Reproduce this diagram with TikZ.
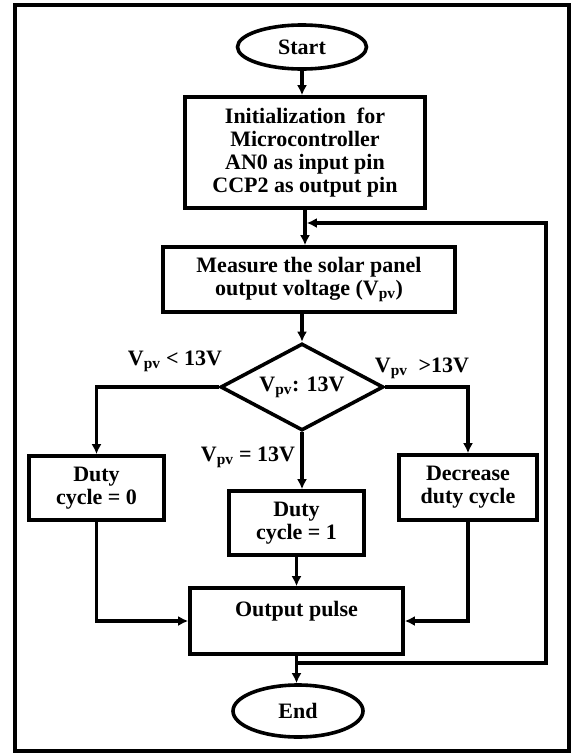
\documentclass[tikz,border=0pt]{standalone}
\usepackage{fontspec}
\setmainfont{Liberation Serif}
\usetikzlibrary{arrows.meta,shapes.geometric}

\begin{document}
\begin{tikzpicture}[x=1pt,y=-1pt,>={Latex[length=10pt,width=10pt]},
    every node/.style={font=\fontsize{22}{23}\selectfont\bfseries,align=center},
    box/.style={draw,rectangle,line width=3.6pt,inner sep=2pt},
    term/.style={draw,ellipse,line width=3.6pt,inner sep=0pt},
    flow/.style={->,line width=3.6pt}]
        \useasboundingbox (0,0) rectangle (571,753);
        % 外框
        \draw [line width=3.6pt] (15,5) rectangle (569,751);
        % 开始与初始化
        \node [term,minimum width=129pt,minimum height=44pt] (start) at (302,47) {Start};
        \node [box,minimum width=240pt,minimum height=111pt] (init) at (305,152.5)
            {Initialization\ \ for\\Microcontroller\\AN0 as input pin\\CCP2 as output pin};
        \node [box,minimum width=292pt,minimum height=65pt] (meas) at (309,279.5)
            {Measure the solar panel\\output voltage (V\textsubscript{pv})};
        % 判断
        \node [draw,diamond,shape aspect=2,line width=3.6pt,inner sep=0pt,
            minimum width=163pt,minimum height=87pt] (dia) at (302,387) {V\textsubscript{pv}: 13V};
        \node (lless) at (175,361) {V\textsubscript{pv} < 13V};
        \node (lmore) at (422,368) {V\textsubscript{pv}\ \ >13V};
        \node (lequal) at (248,457) {V\textsubscript{pv} = 13V};
        % 三个分支
        \node [box,minimum width=135pt,minimum height=64pt] (duty0) at (96.5,488) {Duty\\cycle = 0};
        \node [box,minimum width=135pt,minimum height=64pt] (duty1) at (296.5,523) {Duty\\cycle = 1};
        \node [box,minimum width=138pt,minimum height=65pt] (dec) at (468,487.5) {Decrease\\duty cycle};
        % 输出与结束
        \node [box,minimum width=213pt,minimum height=66pt,text height=14pt,text depth=23pt] (out) at (296.5,621) {Output pulse};
        \node [term,minimum width=130pt,minimum height=52pt] (end) at (298,711) {End};
        % 连线
        \draw [flow] (start.south) -- (start.south |- init.north);
        \draw [flow] (init.south) -- (init.south |- meas.north);
        \draw [flow] (dia.north |- meas.south) -- (dia.north);
        \draw [flow] (dia.west) -| (duty0.north);
        \draw [flow] (dia.east) -| (dec.north);
        \draw [flow] (dia.south) -- (dia.south |- duty1.north);
        \draw [flow] (duty1.south) -- (duty1.south |- out.north);
        \draw [flow] (duty0.south) |- (out.west);
        \draw [flow] (dec.south) |- (out.east);
        \draw [flow] (out.south) -- (out.south |- end.north);
        % 反馈回路
        \coordinate (fbr) at (546,663);
        \coordinate (fbt) at (546,223);
        \draw [flow] (out.south |- fbr) -- (fbr) -- (fbt) -- ([xshift=1.8pt]init.south |- fbt);
\end{tikzpicture}
\end{document}
